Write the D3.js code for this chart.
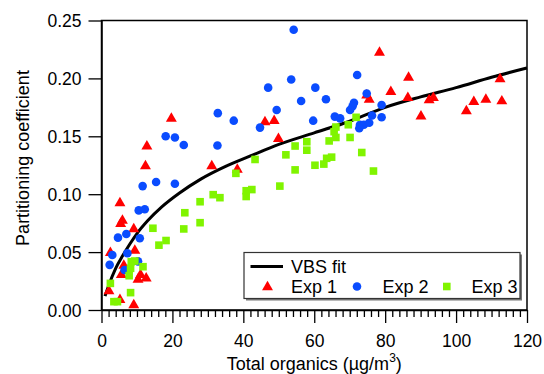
<!DOCTYPE html>
<html><head><meta charset="utf-8">
<script src="https://cdn.jsdelivr.net/npm/d3@7"></script>
<style>body{margin:0;background:#fff}svg{display:block}text{font-family:"Liberation Sans",Arial,sans-serif;fill:#000}</style>
</head><body><svg id="c" width="544" height="374"></svg>
<script>
// Exp 1 (red triangles)
const exp1X = [19.7,12.8,12.4,31.1,38.3,5.2,5.9,5.4,9.1,2.5,9.4,6.3,5.6,11.0,10.3,12.6,2.1,5.2,9.1,
  78.4,81.6,74.8,75.5,46.1,48.7,49.9,86.6,112.4,86.4,92.4,93.6,90.1,105.0,108.4,112.9,102.9];
const exp1Y = [0.166,0.142,0.125,0.125,0.122,0.093,0.078,0.075,0.0706,0.050,0.052,0.039,0.031,0.031,0.027,0.028,0.017,0.0095,0.005,
  0.223,0.189,0.186,0.1825,0.163,0.164,0.1485,0.2015,0.200,0.184,0.182,0.184,0.168,0.1805,0.1825,0.181,0.1725];
// Exp 2 (blue circles)
const exp2X = [32.8,37.3,18.1,20.7,23.2,32.7,11.6,15.4,20.7,10.5,12.2,4.65,7.0,10.8,3.05,7.3,2.3,10.3,6.5,
  54.2,72.1,53.5,47.0,60.3,74.8,56.3,63.3,71.2,70.8,70.1,49.4,79.0,76.3,79.0,44.7,59.7,65.8,67.3,72.9,74.0,72.7,75.5];
const exp2Y = [0.170,0.1635,0.150,0.149,0.1425,0.142,0.107,0.1105,0.109,0.086,0.087,0.0625,0.0656,0.062,0.0475,0.049,0.039,0.042,0.0345,
  0.242,0.203,0.199,0.192,0.192,0.187,0.1805,0.182,0.179,0.176,0.1727,0.1727,0.177,0.168,0.1664,0.1575,0.1635,0.167,0.1655,0.160,0.160,0.157,0.1617];
// Exp 3 (green squares)
const exp3X = [37.9,31.5,33.4,27.8,23.5,27.8,14.5,23.2,18.2,16.2,8.4,9.4,11.7,8.2,7.8,2.5,8.2,3.5,4.5,
  71.8,69.6,66.1,65.6,66.1,70.1,64.2,54.6,57.9,57.9,52.0,73.4,63.5,64.9,43.3,60.2,62.7,54.6,76.7,42.4,40.8,40.8,50.3];
const exp3Y = [0.118,0.0996,0.097,0.0935,0.084,0.0754,0.0706,0.070,0.060,0.056,0.0417,0.0423,0.0374,0.036,0.0296,0.023,0.015,0.0072,0.0072,
  0.1664,0.160,0.158,0.154,0.149,0.149,0.146,0.1416,0.1453,0.138,0.134,0.136,0.131,0.132,0.130,0.125,0.126,0.121,0.120,0.104,0.103,0.098,0.107];
// VBS fit curve
const fitX = [1,2,4,6,8,10,13,17,22,28,35,42,50,60,70,80,90,100,110,120];
const fitY = [0.012,0.021,0.036,0.047,0.057,0.066,0.077,0.089,0.101,0.113,0.124,0.133,0.143,0.153,0.163,0.175,0.184,0.192,0.201,0.209];
const xTicks = [0,20,40,60,80,100,120];
const yTicks = [0,0.05,0.10,0.15,0.20,0.25];
const legendLabels = ["VBS fit","Exp 1","Exp 2","Exp 3"];
const colors = {red:"#ff0000", blue:"#0a4cff", green:"#80f400"};

const svg = d3.select("#c");
const L=101.5, R=527, T=20.5, B=310;
const x = d3.scaleLinear().domain([0,120]).range([L,R]);
const y = d3.scaleLinear().domain([0,0.25]).range([B,T]);

// frame
svg.append("rect").attr("x",L).attr("y",T).attr("width",R-L).attr("height",B-T)
  .attr("fill","none").attr("stroke","#000").attr("stroke-width",1.5);

// x axis
const xa = svg.append("g").attr("transform",`translate(0,${B})`)
  .call(d3.axisBottom(x).tickValues(xTicks).tickSize(13).tickSizeOuter(0).tickFormat(d3.format("d")));
const xm = svg.append("g").attr("transform",`translate(0,${B})`)
  .call(d3.axisBottom(x).tickValues(d3.range(0,121,2).filter(v=>v%20)).tickSize(7).tickFormat(""));
xm.select(".domain").remove();
// y axis
const ya = svg.append("g").attr("transform",`translate(${L},0)`)
  .call(d3.axisLeft(y).tickValues(yTicks).tickSize(13).tickSizeOuter(0).tickFormat(d3.format(".2f")));
[xa,xm,ya].forEach(g=>{
  g.selectAll("line").attr("stroke","#000").attr("stroke-width",1.3);
  g.selectAll(".domain").attr("stroke","#000").attr("stroke-width",1.5);
});
xa.selectAll("text").attr("font-size",17.5).attr("y",25).attr("dy","0.71em");
ya.selectAll("text").attr("font-size",17.5).attr("x",-20).attr("dy","0.35em");

// fit
const line = d3.line().x((d,i)=>x(fitX[i])).y((d,i)=>y(fitY[i])).curve(d3.curveMonotoneX);
svg.append("path").datum(fitX).attr("d",line).attr("fill","none").attr("stroke","#000").attr("stroke-width",3);

// markers
const tri = d3.symbol().type(d3.symbolTriangle).size(52);
svg.append("g").selectAll("path").data(exp1X).join("path")
  .attr("d",tri).attr("transform",(d,i)=>`translate(${x(d)},${y(exp1Y[i])+0.8})`).attr("fill",colors.red);
svg.append("g").selectAll("circle").data(exp2X).join("circle")
  .attr("cx",d=>x(d)).attr("cy",(d,i)=>y(exp2Y[i])).attr("r",4.3).attr("fill",colors.blue);
svg.append("g").selectAll("rect").data(exp3X).join("rect")
  .attr("x",d=>x(d)-3.8).attr("y",(d,i)=>y(exp3Y[i])-3.8).attr("width",7.6).attr("height",7.6).attr("fill",colors.green);

// legend
const lg = svg.append("g");
lg.append("rect").attr("x",246).attr("y",254.5).attr("width",276).attr("height",46).attr("fill","#777");
lg.append("rect").attr("x",244).attr("y",252.5).attr("width",276).attr("height",46).attr("fill","#fff").attr("stroke","#333").attr("stroke-width",1.2);
lg.append("line").attr("x1",250.5).attr("x2",283).attr("y1",266.5).attr("y2",266.5).attr("stroke","#000").attr("stroke-width",3);
lg.append("text").attr("x",291).attr("y",272.5).attr("font-size",18).text(legendLabels[0]);
lg.append("path").attr("d",tri).attr("transform","translate(267.5,287)").attr("fill",colors.red);
lg.append("text").attr("x",291).attr("y",292.5).attr("font-size",18).text(legendLabels[1]);
lg.append("circle").attr("cx",357).attr("cy",286.5).attr("r",4.3).attr("fill",colors.blue);
lg.append("text").attr("x",382.5).attr("y",292.5).attr("font-size",18).text(legendLabels[2]);
lg.append("rect").attr("x",443).attr("y",282.7).attr("width",7.6).attr("height",7.6).attr("fill",colors.green);
lg.append("text").attr("x",471.5).attr("y",292.5).attr("font-size",18).text(legendLabels[3]);

// axis titles
const xt = svg.append("text").attr("x",(L+R)/2).attr("y",370).attr("text-anchor","middle").attr("font-size",18);
xt.append("tspan").text("Total organics (µg/m");
xt.append("tspan").attr("font-size",12).attr("dy",-8).text("3");
xt.append("tspan").attr("dy",8).text(")");
svg.append("text").attr("transform","translate(28.5,158) rotate(-90)").attr("text-anchor","middle").attr("font-size",18).text("Partitioning coefficient");
</script></body></html>
